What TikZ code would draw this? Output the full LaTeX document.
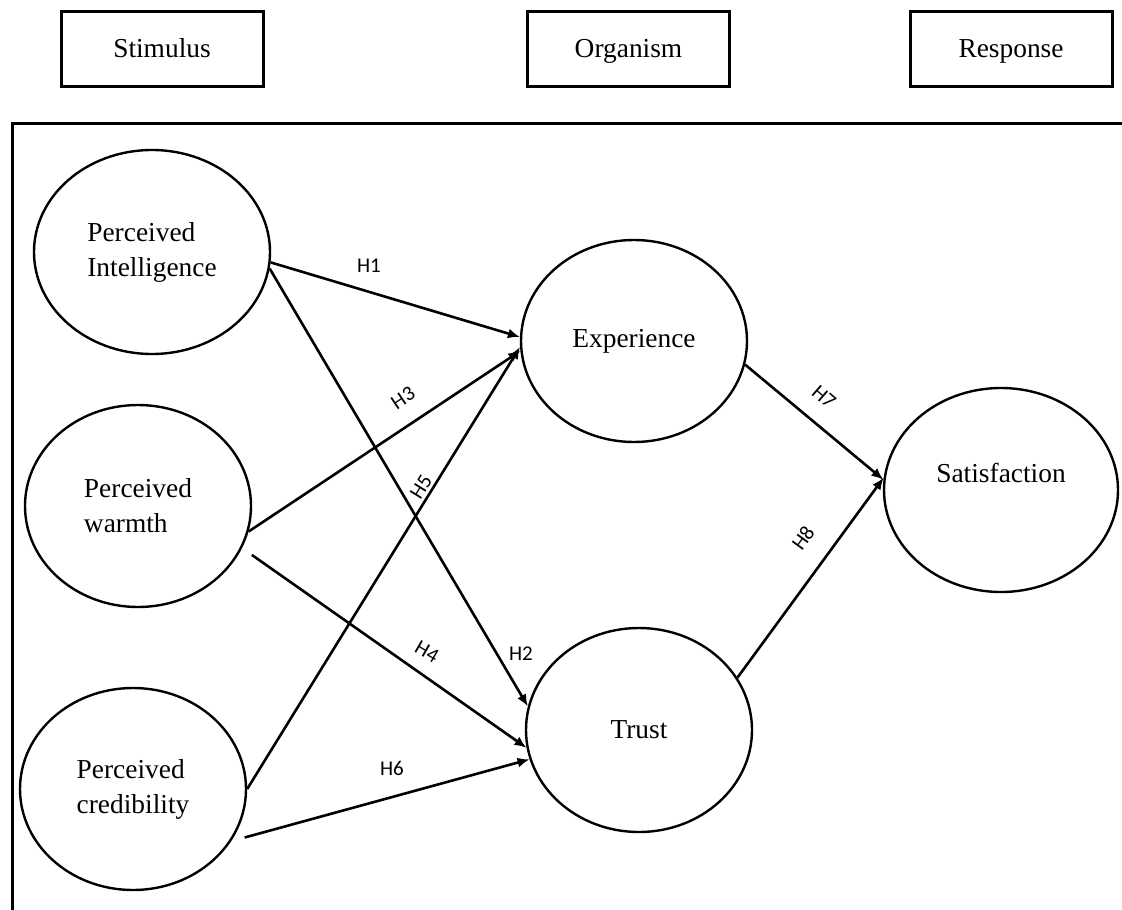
\documentclass[tikz,border=0pt]{standalone}
\usepackage{fontspec}
\setmainfont{Liberation Serif}
\newfontfamily\hypfont{Carlito}
\usetikzlibrary{arrows.meta,shapes.geometric}

\begin{document}
\begin{tikzpicture}
        [x=0.5pt,y=-0.5pt,
        construct/.style={draw,ellipse,line width=1.2pt,minimum width=113pt,minimum height=101pt,inner sep=0,font=\fontsize{13.7}{17.5}\selectfont},
        stage/.style={draw,rectangle,line width=1.5pt,minimum width=101pt,minimum height=37.5pt,inner sep=0,text height=11pt,text depth=3pt,font=\fontsize{13.7}{17.5}\selectfont},
        link/.style={line width=1.3pt,-{Latex[length=6pt,width=5pt]}},
        hyp/.style={inner sep=0,font=\hypfont\fontsize{10.5}{12}\selectfont}]

        \useasboundingbox (0,0) rectangle (1122,909);

        \node[stage] (stim) at (162,49.5) {Stimulus};
        \node[stage] (org) at (628.5,49.5) {Organism};
        \node[stage] (resp) at (1011,49.5) {Response};

        \draw[line width=1.6pt] (12.5,912) -- (12.5,123.5) -- (1125,123.5);

        \node[construct,minimum width=118pt,minimum height=102pt,align=left] (intel) at (152,252) {Perceived\\Intelligence};
        \node[construct,align=left] (warm) at (138,506) {Perceived\\warmth};
        \node[construct,align=left] (cred) at (133,789) {Perceived\\credibility};
        \node[construct] (exper) at (634,341) {Experience};
        \node[construct,minimum height=102pt] (trust) at (639,730) {Trust};
        \node[construct,minimum width=117pt,minimum height=102pt] (satis) at (1001,490) {\raisebox{8.5pt}[\height][\depth]{Satisfaction}};

        \draw[link] (intel.-5) -- (exper.178);
        \draw[link] (intel.-8) -- (trust.168);
        \draw[link] (warm.-13) -- (exper.185);
        \draw[link,shorten <=6pt] (warm.-22) -- (trust.189);
        \draw[link] (cred.0) -- (exper.183);
        \draw[link,shorten <=7pt] (cred.-28) -- (trust.195);
        \draw[link] (exper.-12) -- (satis.175);
        \draw[link] (trust.28) -- (satis.174);

        \node[hyp] (h1) at (369,266) {H1};
        \node[hyp] (h2) at (521,654) {H2};
        \node[hyp,rotate=34] (h3) at (403,398) {H3};
        \node[hyp,rotate=-30] (h4) at (427,652) {H4};
        \node[hyp,rotate=58] (h5) at (421,487) {H5};
        \node[hyp] (h6) at (392,768) {H6};
        \node[hyp,rotate=-41] (h7) at (824,397) {H7};
        \node[hyp,rotate=54] (h8) at (803,538) {H8};

      \end{tikzpicture}
\end{document}
